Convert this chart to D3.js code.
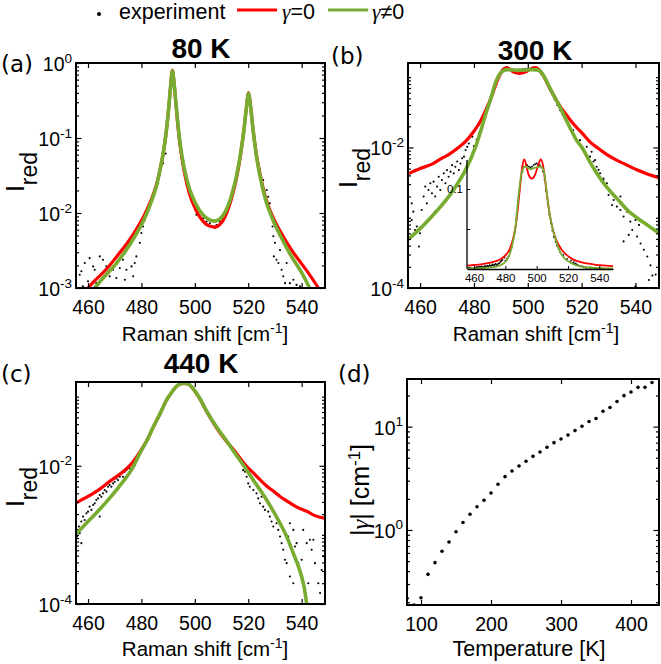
<!DOCTYPE html>
<html>
<head>
<meta charset="utf-8">
<script src="https://cdn.jsdelivr.net/npm/d3@7"></script>
<style>
    body { margin: 0; background: #fff; }
    text { font-family: "Liberation Sans", Arial, sans-serif; fill: #000; }
</style>
</head>
<body>
<svg id="fig" width="661" height="664"></svg>
<script>
const RED = "#ff0000";
const GREEN = "#77ac30";

const ramanTicks = [460, 480, 500, 520, 540];
const tempTicks = [100, 200, 300, 400];

// (a) 80 K
const expA = [
    [456.9, 0.0015], [457.5, 0.00167], [458.8, 0.00215], [460.0, 0.00123], [460.6, 0.0025],
    [462.5, 0.00175], [464.4, 0.00264], [465.6, 0.00238], [466.9, 0.00194], [468.1, 0.00143],
    [469.4, 0.00175], [470.6, 0.00215], [471.9, 0.00185], [473.1, 0.00238], [474.4, 0.00175],
    [476.3, 0.00194], [476.9, 0.00143], [477.5, 0.00215], [478.1, 0.00264], [479.4, 0.0040],
    [480.0, 0.0054], [480.6, 0.0066], [481.3, 0.0081], [481.9, 0.0094], [483.1, 0.0122],
    [483.8, 0.0149], [485.0, 0.0203], [486.3, 0.0249], [486.9, 0.0338], [488.1, 0.0459],
    [489.1, 0.0622], [458.1, 0.00105], [463.1, 0.00116], [473.8, 0.00129], [470.6, 0.00136],
    [461.9, 0.00194], [501.9, 0.0090], [503.1, 0.0085], [504.4, 0.0077], [505.6, 0.0073],
    [506.9, 0.0066], [508.1, 0.0069], [509.4, 0.0077], [510.6, 0.0085], [511.9, 0.0099],
    [507.5, 0.0063], [508.8, 0.0066], [500.6, 0.0095], [524.4, 0.0374], [525.6, 0.0275],
    [526.9, 0.0203], [527.5, 0.0165], [528.1, 0.0135], [528.4, 0.0104], [528.8, 0.0090],
    [529.1, 0.0066], [529.4, 0.0049], [530.0, 0.0040], [529.6, 0.00264], [530.6, 0.00238],
    [531.3, 0.00215], [531.9, 0.0032], [532.5, 0.00175], [533.1, 0.00143], [533.8, 0.00116],
    [535.6, 0.00116], [536.9, 0.00129], [538.1, 0.0011], [539.4, 0.00105], [534.4, 0.00215]
];
const redA = [
    [460, 0.0010], [463, 0.0013], [467, 0.0018], [471, 0.0027], [475, 0.0041], [478.5, 0.0064],
    [481, 0.0092], [483.5, 0.0145], [485.5, 0.023], [487, 0.038], [488.5, 0.074], [489.5, 0.14],
    [490.3, 0.27], [491, 0.52], [491.6, 0.80], [492.2, 0.55], [492.9, 0.29], [493.7, 0.14],
    [494.7, 0.07], [496, 0.036], [498, 0.018], [500.5, 0.0108], [503, 0.0078], [505.5, 0.0067],
    [507.5, 0.0065], [509.5, 0.0071], [511.5, 0.0092], [513.5, 0.0145], [515.5, 0.028],
    [517, 0.056], [518.3, 0.12], [519.3, 0.25], [520.1, 0.40], [520.9, 0.26], [521.8, 0.13],
    [523, 0.062], [524.5, 0.032], [526.5, 0.016], [529, 0.0092], [532, 0.0057], [536, 0.0033],
    [540, 0.0021], [543, 0.0015], [546.3, 0.0010]
];
const greenA = [
    [462.5, 0.0010], [466, 0.0014], [470, 0.0020], [474, 0.0031], [478, 0.0052], [481, 0.0082],
    [483.5, 0.0135], [485.5, 0.022], [487, 0.038], [488.5, 0.075], [489.5, 0.14], [490.3, 0.27],
    [491, 0.52], [491.6, 0.78], [492.2, 0.55], [492.9, 0.30], [493.7, 0.15], [494.7, 0.075],
    [496, 0.040], [498, 0.021], [500.5, 0.013], [503, 0.0095], [505.5, 0.0081], [507.5, 0.0078],
    [509.5, 0.0084], [511.5, 0.0105], [513.5, 0.016], [515.5, 0.030], [517, 0.058], [518.3, 0.12],
    [519.3, 0.25], [520.1, 0.39], [520.9, 0.26], [521.8, 0.13], [523, 0.060], [524.5, 0.030],
    [526.5, 0.015], [529, 0.0085], [532, 0.0050], [536, 0.0027], [540, 0.0016], [543, 0.0010]
];

// (b) 300 K
const expB = [
    [456.9, 0.0016], [457.5, 0.00122], [456.9, 0.00093], [458.1, 0.00067], [458.8, 0.00075],
    [459.6, 0.00039], [460.0, 0.0006], [460.6, 0.00129], [461.3, 0.002], [461.9, 0.00277],
    [462.5, 0.0016], [463.1, 0.00248], [463.8, 0.00309], [464.4, 0.00223], [465.0, 0.00326],
    [465.6, 0.002], [466.3, 0.00277], [466.9, 0.00383], [467.5, 0.00248], [468.1, 0.00344],
    [468.8, 0.00428], [469.4, 0.00309], [470.0, 0.00476], [470.6, 0.00383], [471.3, 0.00452],
    [471.9, 0.0056], [472.5, 0.00428], [473.1, 0.0053], [473.8, 0.0063], [474.4, 0.00476],
    [475.0, 0.0059], [475.6, 0.0070], [476.3, 0.0074], [476.9, 0.0092], [477.5, 0.0102],
    [478.1, 0.0114], [479.4, 0.0142], [464.4, 0.00104], [465.6, 0.00122],
    [480, 0.0105], [481, 0.013], [482, 0.016], [483, 0.021], [484, 0.027], [485, 0.036],
    [486, 0.047], [487, 0.062], [488, 0.080], [489, 0.098], [490, 0.113], [491, 0.122],
    [492, 0.128], [493, 0.131], [494, 0.130], [495, 0.128], [496, 0.127], [497, 0.128],
    [498, 0.130], [499, 0.131], [500, 0.132], [501, 0.131], [502, 0.130], [503, 0.127],
    [504, 0.122], [505, 0.112], [506, 0.098], [507, 0.083], [508, 0.068], [509, 0.057],
    [510, 0.048], [511, 0.040], [512, 0.034], [513, 0.029], [514, 0.025], [515, 0.021],
    [516.9, 0.0176], [519.4, 0.0127], [521.9, 0.0102], [523.1, 0.0074], [524.4, 0.0063],
    [526.3, 0.0048], [528.1, 0.0036], [523.7, 0.0087], [525.0, 0.0066], [525.6, 0.0053],
    [526.9, 0.0043], [528.1, 0.00344], [529.4, 0.0031], [530.6, 0.00248], [530.0, 0.0021],
    [531.9, 0.00179], [531.3, 0.00152], [533.1, 0.00144], [534.4, 0.00129], [535.6, 0.00104],
    [536.9, 0.00122], [538.1, 0.00088], [538.8, 0.00067], [540.0, 0.00093], [540.6, 0.00054],
    [541.9, 0.00043], [543.1, 0.00035], [544.4, 0.00028], [545.6, 0.00021], [545.0, 0.00013],
    [546.3, 0.00015], [547.5, 0.000155], [540.0, 0.000105], [541.3, 0.00079], [535.6, 0.00046],
    [537.5, 0.00057], [534.4, 0.002]
];
const redB = [
    [455.5, 0.0042], [460, 0.0050], [464.4, 0.0058], [468, 0.0070], [470.6, 0.0079],
    [474, 0.0098], [476.9, 0.0122], [480, 0.0170], [482.5, 0.024], [484.4, 0.034],
    [486.3, 0.050], [488.1, 0.078], [489.5, 0.105], [490.8, 0.128], [492.1, 0.137],
    [493.3, 0.130], [494.8, 0.118], [496.9, 0.113], [499, 0.118], [501, 0.130], [502.6, 0.137],
    [504, 0.130], [505.3, 0.112], [506.6, 0.092], [508, 0.072], [510, 0.052], [512.5, 0.036],
    [514.4, 0.029], [516, 0.024], [518, 0.0195], [520.5, 0.0155], [523.1, 0.012], [526, 0.0098],
    [529.4, 0.0079], [533, 0.0066], [536.9, 0.0056], [540.5, 0.0048], [544.4, 0.0042],
    [548.8, 0.0037]
];
const greenB = [
    [455.5, 0.00049], [460, 0.00070], [464.4, 0.00105], [468, 0.0015], [470.6, 0.0020],
    [474, 0.0031], [476.9, 0.0048], [480.6, 0.0102], [482.5, 0.017], [484.4, 0.030],
    [486.3, 0.050], [488.1, 0.085], [489.5, 0.110], [491, 0.124], [492.5, 0.128], [494, 0.127],
    [496, 0.125], [498, 0.126], [500, 0.127], [502, 0.128], [503.5, 0.127], [505, 0.118],
    [506.2, 0.100], [507.5, 0.080], [509, 0.061], [510.6, 0.047], [512.5, 0.034], [514.4, 0.024],
    [516, 0.018], [518.1, 0.0127], [520.5, 0.0095], [523.1, 0.0062], [526, 0.0041],
    [529.4, 0.0027], [533, 0.0019], [536.9, 0.0013], [540.5, 0.0010], [544.4, 0.00079],
    [548.8, 0.00060]
];

// (c) 440 K
const expC = [
    [455.9, 0.00095], [456.25, 0.00118], [456.6, 0.00132], [457.5, 0.00156], [458.1, 0.00184],
    [458.75, 0.00164], [459.4, 0.00205], [460, 0.00217], [460.6, 0.00256], [461.25, 0.0023],
    [461.9, 0.00271], [462.5, 0.00286], [463.1, 0.0032], [463.75, 0.00338], [464.4, 0.00378],
    [465, 0.00357], [465.6, 0.00399], [466.25, 0.00446], [466.9, 0.00422], [467.5, 0.00498],
    [468.1, 0.00526], [468.75, 0.00498], [469.4, 0.00556], [470, 0.00588], [470.6, 0.00656],
    [471.25, 0.0062], [471.9, 0.00693], [472.5, 0.00774], [473.1, 0.00693], [473.75, 0.0082],
    [474.4, 0.00865], [475, 0.00967], [475.6, 0.00915], [476.25, 0.0108], [476.9, 0.0114],
    [477.5, 0.0102], [478.1, 0.0121], [464.4, 0.00184], [457.5, 0.00076], [456.9, 0.00106],
    [514.4, 0.0168], [516.9, 0.0121], [518.1, 0.00865], [518.75, 0.0082], [519.4, 0.00693],
    [520, 0.00556], [520.6, 0.00498], [521.9, 0.00446], [523.1, 0.00399], [523.75, 0.00338],
    [524.4, 0.00286], [525, 0.00357], [525.6, 0.00256], [526.25, 0.0023], [526.9, 0.0032],
    [527.5, 0.00217], [528.1, 0.00184], [528.75, 0.00156], [529.4, 0.00132], [530, 0.00205],
    [530.6, 0.00147], [531.25, 0.00118], [531.9, 0.00095], [532.5, 0.00076], [533.1, 0.00061],
    [533.75, 0.000436], [534.4, 0.00039], [535, 0.00095], [535.6, 0.00147], [536.9, 0.00118],
    [537.5, 0.00068], [538.1, 0.00076], [538.75, 0.00039], [539.4, 0.00031], [540, 0.000436],
    [540.6, 0.00118], [541.9, 0.00076], [543.1, 0.00085], [543.75, 0.00061], [544.4, 0.00085],
    [545, 0.00039], [546.25, 0.0002], [546.9, 0.000144], [547.5, 0.00031], [548.1, 0.00049],
    [536.9, 0.0002], [535.6, 0.00025], [542.5, 0.0002]
];
const redC = [
    [455.5, 0.0029], [460, 0.0036], [464.4, 0.0046], [468, 0.0059], [473.1, 0.0082],
    [476.5, 0.0110], [479.4, 0.0158], [482, 0.023], [484.4, 0.036], [487, 0.057], [489.4, 0.089],
    [491.3, 0.115], [493.1, 0.140], [494.6, 0.152], [496, 0.155], [497.4, 0.152], [498.75, 0.139],
    [500.3, 0.116], [501.9, 0.093], [504.4, 0.061], [506.9, 0.042], [509.4, 0.030],
    [511.9, 0.0225], [514.4, 0.0174], [516.9, 0.0130], [519.4, 0.0098], [521.9, 0.0079],
    [524.4, 0.0063], [526.9, 0.0051], [529.4, 0.0043], [531.9, 0.0036], [534.4, 0.0031],
    [536.9, 0.0027], [539.4, 0.0024], [541.9, 0.0022], [545, 0.0019], [548.75, 0.00174]
];
const greenC = [
    [455.5, 0.00103], [460.6, 0.00165], [466.9, 0.0030], [473.1, 0.0059], [476.5, 0.0090],
    [479.4, 0.0151], [482, 0.023], [484.4, 0.036], [487, 0.057], [489.4, 0.089], [491.3, 0.115],
    [493.1, 0.141], [494.6, 0.153], [496, 0.157], [497.4, 0.153], [498.75, 0.140], [500.3, 0.117],
    [501.9, 0.094], [504.4, 0.062], [506.9, 0.043], [509.4, 0.031], [511.9, 0.023],
    [514.4, 0.0165], [516.9, 0.012], [519.4, 0.0087], [521.9, 0.0062], [524.4, 0.0045],
    [526.9, 0.0032], [529.4, 0.0022], [531.9, 0.00147], [534.4, 0.00095], [536.9, 0.00054],
    [538.8, 0.00035], [540, 0.00025], [541, 0.00017], [541.9, 0.00010]
];

// (d) |gamma| vs temperature
const tempD = [80, 90, 100, 110, 120, 130, 140, 150, 160, 170, 180, 190, 200, 210, 220, 230, 240, 250,
    260, 270, 280, 290, 300, 310, 320, 330, 340, 350, 360, 370, 380, 390, 400, 410, 420, 430];
const gammaD = [0.218, 0.188, 0.221, 0.372, 0.483, 0.622, 0.765, 0.963, 1.18, 1.42, 1.68, 1.94, 2.28,
    2.77, 3.28, 3.72, 4.16, 4.62, 5.16, 5.69, 6.31, 7.0, 7.6, 8.3, 9.15, 10.1, 11.2, 12.0, 14.1, 15.3,
    17.5, 19.95, 21.6, 24.0, 24.0, 26.7];

const yTicksA = [1e-3, 1e-2, 1e-1, 1];
const yTicksBC = [1e-4, 1e-2];
const yTicksD = [1, 10];

const svg = d3.select("#fig");

function panel(o) {
    const w = o.right - o.left;
    const h = o.bottom - o.top;
    const g = svg.append("g").attr("transform", `translate(${o.left},${o.top})`);

    const x = d3.scaleLinear().domain(o.xDomain).range([0, w]);
    const y = d3.scaleLog().domain(o.yDomain).range([h, 0]);

    g.append("clipPath").attr("id", "clip-" + o.id)
        .append("rect").attr("width", w).attr("height", h);

    const plot = g.append("g").attr("clip-path", `url(#clip-${o.id})`);

    plot.selectAll("circle.exp")
        .data(o.dots)
        .join("circle")
        .attr("class", "exp")
        .attr("cx", d => x(d[0]))
        .attr("cy", d => y(d[1]))
        .attr("r", o.dotR || 1.05)
        .attr("fill", "#000");

    const line = d3.line()
        .curve(d3.curveMonotoneX)
        .x(d => x(d[0]))
        .y(d => y(d[1]));

    (o.lines || []).forEach(l => {
        plot.append("path")
            .attr("d", line(l.data))
            .attr("fill", "none")
            .attr("stroke", l.color)
            .attr("stroke-width", l.width)
            .attr("stroke-linejoin", "round");
    });

    // inward ticks on all four sides
    const majors = o.yTicks;
    const minors = y.ticks().filter(v => !majors.some(m => Math.abs(m - v) / m < 1e-9));

    const ax = [
        g.append("g").call(d3.axisLeft(y).tickValues(minors).tickSize(-3).tickFormat("")),
        g.append("g").call(d3.axisLeft(y).tickValues(majors).tickSize(-5.5).tickFormat("")),
        g.append("g").attr("transform", `translate(${w},0)`)
            .call(d3.axisRight(y).tickValues(minors).tickSize(-3).tickFormat("")),
        g.append("g").attr("transform", `translate(${w},0)`)
            .call(d3.axisRight(y).tickValues(majors).tickSize(-5.5).tickFormat("")),
        g.append("g").call(d3.axisTop(x).tickValues(o.xTicks).tickSize(-5).tickFormat(""))
    ];
    const xb = g.append("g").attr("transform", `translate(0,${h})`)
        .call(d3.axisBottom(x).tickValues(o.xTicks).tickSizeInner(-5).tickSizeOuter(0).tickPadding(12));
    ax.push(xb);
    ax.forEach(a => {
        a.select(".domain").remove();
        a.selectAll("line").attr("stroke", "#000").attr("stroke-width", 1.2);
    });
    xb.selectAll("text")
        .attr("font-size", 19.5)
        .attr("fill", "#000");

    g.append("rect")
        .attr("width", w).attr("height", h)
        .attr("fill", "none")
        .attr("stroke", "#000")
        .attr("stroke-width", 2);

    g.append("g").selectAll("text")
        .data(majors)
        .join("text")
        .attr("x", -4)
        .attr("y", d => y(d) + 8)
        .attr("text-anchor", "end")
        .attr("font-size", 19.5)
        .each(function (d) {
            const t = d3.select(this);
            t.append("tspan").text("10");
            t.append("tspan").attr("dy", -8.5).attr("font-size", 13.5)
                .text(String(Math.round(Math.log10(d))));
        });

    return { g, x, y, w, h };
}

const lineSet = (red, green, wr, wg) => [
    { data: red, color: RED, width: wr },
    { data: green, color: GREEN, width: wg }
];

panel({
    id: "a", left: 76, top: 63, right: 325, bottom: 288,
    xDomain: [455.5, 548.75], yDomain: [1e-3, 1], xTicks: ramanTicks, yTicks: yTicksA,
    dots: expA, lines: lineSet(redA, greenA, 3.2, 3.6)
});
panel({
    id: "b", left: 408, top: 63, right: 659, bottom: 288,
    xDomain: [455.5, 548.75], yDomain: [1e-4, 0.159], xTicks: ramanTicks, yTicks: yTicksBC,
    dots: expB, lines: lineSet(redB, greenB, 3.2, 3.6)
});
panel({
    id: "c", left: 76, top: 382, right: 325, bottom: 604,
    xDomain: [455.5, 548.75], yDomain: [1e-4, 0.163], xTicks: ramanTicks, yTicks: yTicksBC,
    dots: expC, lines: lineSet(redC, greenC, 3.2, 3.6)
});
panel({
    id: "d", left: 407, top: 379, right: 659, bottom: 605,
    xDomain: [80, 440], yDomain: [0.188, 28.9], xTicks: tempTicks, yTicks: yTicksD,
    dots: tempD.map((t, i) => [t, gammaD[i]]), dotR: 1.8
});

// inset in (b), linear y
{
    const il = 467, it = 160, ir = 613, ib = 269;
    const gi = svg.append("g").attr("transform", `translate(${il},${it})`);
    const w = ir - il, h = ib - it;
    const x = d3.scaleLinear().domain([455.5, 548.75]).range([0, w]);
    const y = d3.scaleLinear().domain([0, 0.1363]).range([h, 0]);
    const line = d3.line().curve(d3.curveMonotoneX).x(d => x(d[0])).y(d => y(d[1]));

    gi.selectAll("circle")
        .data(expB)
        .join("circle")
        .attr("cx", d => x(d[0]))
        .attr("cy", d => y(d[1]))
        .attr("r", 0.9)
        .attr("fill", "#000");
    [[redB, RED], [greenB, GREEN]].forEach(([d, c]) => {
        gi.append("path").attr("d", line(d)).attr("fill", "none")
            .attr("stroke", c).attr("stroke-width", 1.8);
    });

    const xa = gi.append("g").attr("transform", `translate(0,${h})`)
        .call(d3.axisBottom(x).tickValues(ramanTicks).tickSizeInner(-3).tickSizeOuter(0).tickPadding(5));
    const ya = gi.append("g")
        .call(d3.axisLeft(y).tickValues([0.05, 0.1]).tickSizeInner(-3).tickSizeOuter(0)
            .tickPadding(4).tickFormat(d => d === 0.1 ? "0.1" : ""));
    [xa, ya].forEach(a => {
        a.select(".domain").attr("stroke", "#000").attr("stroke-width", 1.3);
        a.selectAll("line").attr("stroke", "#000");
        a.selectAll("text").attr("font-size", 11.5).attr("fill", "#000");
    });
    ya.select(".domain").attr("d", `M0,${h}V0`);
}

// titles and panel letters
const titles = [
    { t: "80 K", x: 201, y: 58 },
    { t: "300 K", x: 535, y: 60 },
    { t: "440 K", x: 201, y: 373 }
];
svg.selectAll("text.title")
    .data(titles)
    .join("text")
    .attr("class", "title")
    .attr("x", d => d.x).attr("y", d => d.y)
    .attr("text-anchor", "middle")
    .attr("font-size", 28)
    .attr("font-weight", "bold")
    .text(d => d.t);

const letters = [
    { t: "(a)", x: 1, y: 72 },
    { t: "(b)", x: 331, y: 64 },
    { t: "(c)", x: 1, y: 382 },
    { t: "(d)", x: 338, y: 382 }
];
svg.selectAll("text.letter")
    .data(letters)
    .join("text")
    .attr("class", "letter")
    .attr("x", d => d.x).attr("y", d => d.y)
    .attr("font-size", 23)
    .style("font-family", "'DejaVu Sans', Verdana, sans-serif")
    .text(d => d.t);

// axis labels
const xlabels = [
    { x: 205, y: 341, kind: "raman" },
    { x: 536, y: 341, kind: "raman" },
    { x: 205, y: 656, kind: "raman" },
    { x: 529, y: 656, kind: "temp" }
];
xlabels.forEach(d => {
    const t = svg.append("text")
        .attr("x", d.x).attr("y", d.y)
        .attr("text-anchor", "middle")
        .attr("font-size", 20.5);
    if (d.kind === "temp") {
        t.attr("font-size", 21.5).text("Temperature [K]");
    } else {
        t.append("tspan").text("Raman shift [cm");
        t.append("tspan").attr("dy", -8).attr("font-size", 14).text("-1");
        t.append("tspan").attr("dy", 8).text("]");
    }
});

const ylabs = [
    { x: 24, y: 172 },
    { x: 357, y: 168 },
    { x: 24, y: 487 }
];
ylabs.forEach(d => {
    const t = svg.append("text")
        .attr("transform", `translate(${d.x},${d.y}) rotate(-90)`)
        .attr("text-anchor", "middle")
        .attr("font-size", 25);
    t.append("tspan").text("I");
    t.append("tspan").attr("dy", 13).attr("font-size", 23).text("red");
});

{
    const t = svg.append("text")
        .attr("transform", `translate(369,490) rotate(-90)`)
        .attr("text-anchor", "middle")
        .attr("font-size", 25);
    t.append("tspan").text("|");
    t.append("tspan").style("font-family", "'Liberation Serif', serif").attr("font-style", "italic").text("γ");
    t.append("tspan").text("| [cm");
    t.append("tspan").attr("dy", -9).attr("font-size", 17).text("-1");
    t.append("tspan").attr("dy", 9).text("]");
}

// legend
const legend = svg.append("g");
legend.append("circle").attr("cx", 99).attr("cy", 14).attr("r", 2).attr("fill", "#000");
legend.append("text").attr("x", 119).attr("y", 19).attr("font-size", 21.5).text("experiment");
const legItems = [
    { color: RED, x1: 237, x2: 277, label: "=0", tx: 282 },
    { color: GREEN, x1: 328, x2: 368, label: "≠0", tx: 372 }
];
legItems.forEach(d => {
    legend.append("line")
        .attr("x1", d.x1).attr("x2", d.x2).attr("y1", 10).attr("y2", 10)
        .attr("stroke", d.color).attr("stroke-width", 3.2);
    const t = legend.append("text").attr("x", d.tx).attr("y", 19).attr("font-size", 21.5);
    t.append("tspan").style("font-family", "'Liberation Serif', serif").attr("font-style", "italic").text("γ");
    t.append("tspan").text(d.label);
});
</script>
</body>
</html>
